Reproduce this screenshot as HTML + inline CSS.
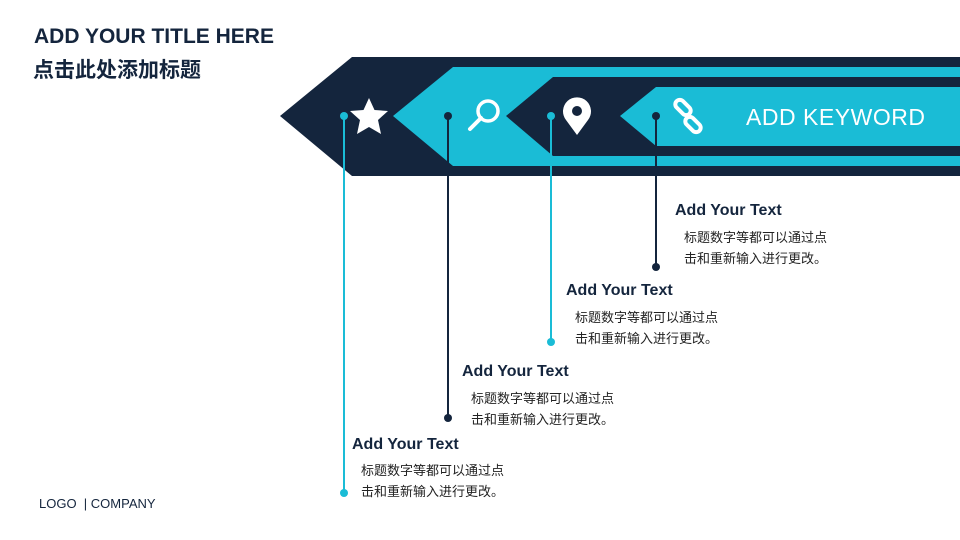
<!DOCTYPE html>
<html><head><meta charset="utf-8"><style>
body{margin:0;width:960px;height:540px;background:#fff;position:relative;overflow:hidden;font-family:"Liberation Sans","Noto Sans CJK SC",sans-serif;color:#14253d}
.a{position:absolute;white-space:nowrap}
.h{font-size:16px;font-weight:bold}
.p{font-size:13px;line-height:21px;color:#222}
</style></head><body>
<div class="a" style="left:34px;top:25px;font-size:21px;font-weight:bold;color:#14253d">ADD YOUR TITLE HERE</div>
<div class="a" style="left:33px;top:54px;font-size:21px;font-weight:bold;color:#14253d">点击此处添加标题</div>
<svg class="a" style="left:0;top:0" width="960" height="540">
<polygon points="280,116 352,57 960,57 960,176 352,176" fill="#14253d"/>
<polygon points="393,116 453,67 960,67 960,166 453,166" fill="#1abcd6"/>
<polygon points="506,116 553,77 960,77 960,156 553,156" fill="#14253d"/>
<polygon points="620,116 656,87 960,87 960,146 656,146" fill="#1abcd6"/>
<polygon points="369,98 374.5,110 388,111 378,120 381,134 369,127 357,134 360,120 350,111 363.5,110" fill="#fff"/>
<circle cx="488" cy="111" r="10" fill="none" stroke="#fff" stroke-width="3.5"/>
<line x1="481" y1="118" x2="470" y2="129" stroke="#fff" stroke-width="4" stroke-linecap="round"/>
<path d="M577,135 L566,120 A14,14 0 1 1 588,120 Z" fill="#fff"/>
<circle cx="577" cy="111" r="5" fill="#14253d"/>
<g fill="none" stroke="#fff" stroke-width="4">
<rect x="674" y="103" width="18" height="9" rx="4.5" transform="rotate(45 683 107.5)"/>
<rect x="684" y="120" width="18" height="9" rx="4.5" transform="rotate(45 693 124.5)"/>
</g>
<text x="746" y="125" font-family="Liberation Sans" font-size="23" textLength="179" fill="#fff">ADD KEYWORD</text>
<line x1="344" y1="116" x2="344" y2="493" stroke="#1abcd6" stroke-width="2"/>
<circle cx="344" cy="116" r="4" fill="#1abcd6"/><circle cx="344" cy="493" r="4" fill="#1abcd6"/>
<line x1="448" y1="116" x2="448" y2="418" stroke="#14253d" stroke-width="2"/>
<circle cx="448" cy="116" r="4" fill="#14253d"/><circle cx="448" cy="418" r="4" fill="#14253d"/>
<line x1="551" y1="116" x2="551" y2="342" stroke="#1abcd6" stroke-width="2"/>
<circle cx="551" cy="116" r="4" fill="#1abcd6"/><circle cx="551" cy="342" r="4" fill="#1abcd6"/>
<line x1="656" y1="116" x2="656" y2="267" stroke="#14253d" stroke-width="2"/>
<circle cx="656" cy="116" r="4" fill="#14253d"/><circle cx="656" cy="267" r="4" fill="#14253d"/>
</svg>
<div class="a h" style="left:352px;top:436px">Add Your Text</div>
<div class="a p" style="left:361px;top:460px">标题数字等都可以通过点<br>击和重新输入进行更改。</div>
<div class="a h" style="left:462px;top:363px">Add Your Text</div>
<div class="a p" style="left:471px;top:388px">标题数字等都可以通过点<br>击和重新输入进行更改。</div>
<div class="a h" style="left:566px;top:282px">Add Your Text</div>
<div class="a p" style="left:575px;top:307px">标题数字等都可以通过点<br>击和重新输入进行更改。</div>
<div class="a h" style="left:675px;top:202px">Add Your Text</div>
<div class="a p" style="left:684px;top:227px">标题数字等都可以通过点<br>击和重新输入进行更改。</div>
<div class="a" style="left:39px;top:496px;font-size:13px;color:#14253d">LOGO &nbsp;| COMPANY</div>
</body></html>
